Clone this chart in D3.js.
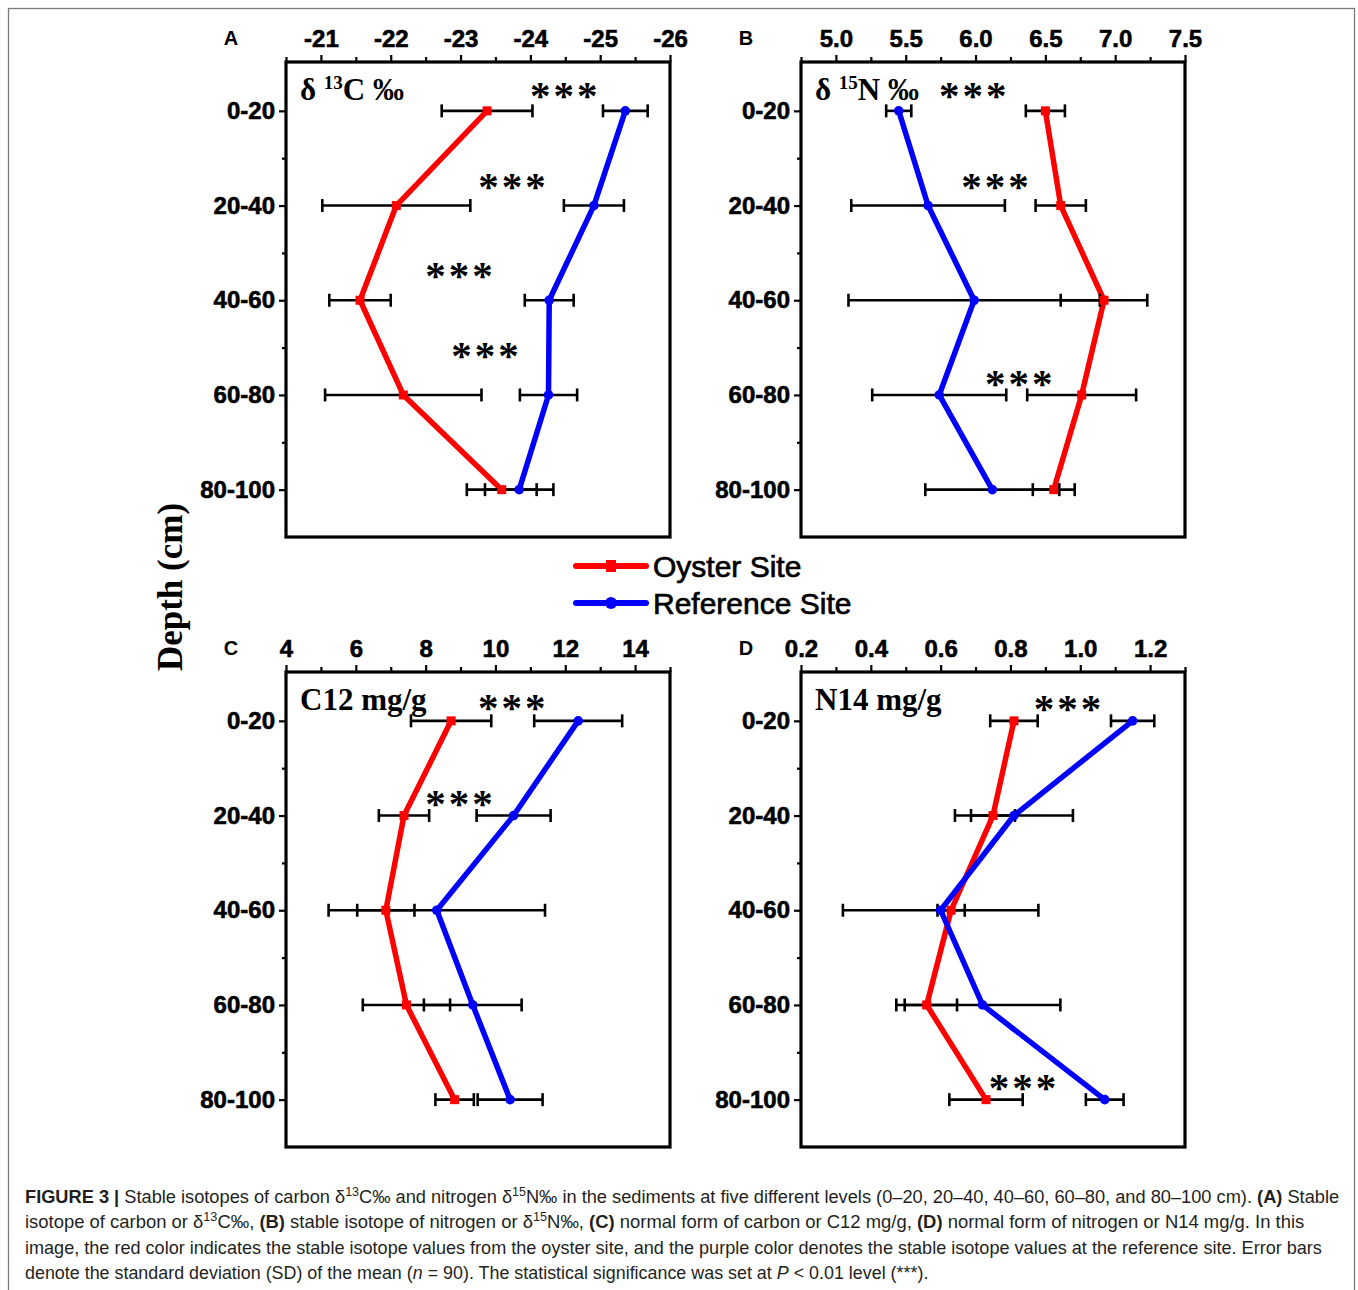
<!DOCTYPE html>
<html>
<head>
<meta charset="utf-8">
<script src="https://cdn.jsdelivr.net/npm/d3@7"></script>
<style>
  html, body { margin: 0; padding: 0; background: #fff; }
  svg { display: block; }
</style>
</head>
<body>
<svg id="fig" width="1358" height="1290"></svg>
<script>
// Depth intervals (cm)
const depths = ["0-20", "20-40", "40-60", "60-80", "80-100"];

// (A) δ13C ‰
const c13Oyster   = [-23.38, -22.08, -21.56, -22.18, -23.59];
const c13OysterSD = [0.65, 1.06, 0.44, 1.12, 0.50];
const c13Ref      = [-25.36, -24.91, -24.27, -24.26, -23.84];
const c13RefSD    = [0.32, 0.43, 0.35, 0.41, 0.49];
const c13Ticks    = [-21, -22, -23, -24, -25, -26];

// (B) δ15N ‰
const n15Oyster   = [6.50, 6.61, 6.92, 6.76, 6.56];
const n15OysterSD = [0.14, 0.18, 0.31, 0.39, 0.15];
const n15Ref      = [5.45, 5.66, 5.99, 5.74, 6.12];
const n15RefSD    = [0.09, 0.55, 0.90, 0.48, 0.48];
const n15Ticks    = [5.0, 5.5, 6.0, 6.5, 7.0, 7.5];

// (C) C12 mg/g
const c12Oyster   = [8.73, 7.38, 6.86, 7.45, 8.83];
const c12OysterSD = [1.15, 0.72, 0.82, 1.25, 0.55];
const c12Ref      = [12.37, 10.52, 8.32, 9.35, 10.42];
const c12RefSD    = [1.26, 1.06, 3.10, 1.40, 0.93];
const c12Ticks    = [4, 6, 8, 10, 12, 14];

// (D) N14 mg/g
const n14Oyster   = [0.81, 0.75, 0.63, 0.56, 0.73];
const n14OysterSD = [0.068, 0.063, 0.039, 0.087, 0.105];
const n14Ref      = [1.15, 0.81, 0.60, 0.72, 1.07];
const n14RefSD    = [0.062, 0.169, 0.28, 0.223, 0.054];
const n14Ticks    = [0.2, 0.4, 0.6, 0.8, 1.0, 1.2];

// Significance marks: [x value, row position (0 = first depth)]
const c13Stars = [[-24.5, -0.24], [-23.76, 0.72], [-23.0, 1.67], [-23.37, 2.51]];
const n15Stars = [[5.99, -0.24], [6.15, 0.72], [6.32, 2.8]];
const c12Stars = [[10.51, -0.22], [9.0, 0.8]];
const n14Stars = [[0.968, -0.2], [0.839, 3.8]];

const seriesNames = ["Oyster Site", "Reference Site"];
const RED = "#ff0000", BLUE = "#0000ff";

// plain hyphen for negative numbers, as printed on the axes
const intFmt = d => String(d);
const oneDec = d => d.toFixed(1);

const svg = d3.select("#fig");

// outer figure frame
svg.append("rect")
  .attr("x", 8.5).attr("y", 8.5).attr("width", 1346).attr("height", 1320)
  .attr("fill", "none").attr("stroke", "#7a7a7a").attr("stroke-width", 1.3);

const W = 384, H = 475;

const panels = [
  { letter: "A", left: 286, top: 62, domain: [-20.5, -26], ticks: c13Ticks, step: 0.5,
    fmt: intFmt, title: ["δ ", "13", "C ‰"],
    oy: c13Oyster, oySD: c13OysterSD, rf: c13Ref, rfSD: c13RefSD, stars: c13Stars },
  { letter: "B", left: 801, top: 62, domain: [4.75, 7.5], ticks: n15Ticks, step: 0.25,
    fmt: oneDec, title: ["δ ", "15", "N ‰"],
    oy: n15Oyster, oySD: n15OysterSD, rf: n15Ref, rfSD: n15RefSD, stars: n15Stars },
  { letter: "C", left: 286, top: 672, domain: [4, 15], ticks: c12Ticks, step: 1,
    fmt: intFmt, title: ["C12 mg/g"],
    oy: c12Oyster, oySD: c12OysterSD, rf: c12Ref, rfSD: c12RefSD, stars: c12Stars },
  { letter: "D", left: 801, top: 672, domain: [0.2, 1.3], ticks: n14Ticks, step: 0.1,
    fmt: oneDec, title: ["N14 mg/g"],
    oy: n14Oyster, oySD: n14OysterSD, rf: n14Ref, rfSD: n14RefSD, stars: n14Stars }
];

panels.forEach(p => {
  const g = svg.append("g");
  const x = d3.scaleLinear().domain(p.domain).range([p.left, p.left + W]);
  const y = d3.scalePoint().domain(depths).range([p.top + 1.5, p.top + H]).padding(0.5);
  const yRow = d3.scaleLinear().domain([-0.5, depths.length - 0.5]).range([p.top + 1.5, p.top + H]);

  // minor ticks on the top axis (half-way between labelled ticks)
  const lo = Math.min(...p.domain), hi = Math.max(...p.domain);
  const minor = d3.range(Math.round((hi - lo) / p.step) + 1)
    .map(i => +(lo + i * p.step).toFixed(4))
    .filter(v => !p.ticks.some(t => Math.abs(t - v) < 1e-6));
  g.append("g").attr("transform", `translate(0,${p.top})`)
    .call(d3.axisTop(x).tickValues(minor).tickSize(5).tickSizeOuter(0).tickFormat(""))
    .call(a => a.select(".domain").remove())
    .call(a => a.selectAll("line").attr("stroke-width", 2.2));

  // labelled ticks on the top axis
  g.append("g").attr("transform", `translate(0,${p.top})`)
    .call(d3.axisTop(x).tickValues(p.ticks).tickSize(7).tickPadding(8).tickSizeOuter(0).tickFormat(p.fmt))
    .call(a => a.select(".domain").remove())
    .call(a => a.selectAll("line").attr("stroke-width", 2.2))
    .call(a => a.selectAll("text")
      .attr("font-family", "Liberation Sans, Arial, sans-serif")
      .attr("font-weight", "bold").attr("font-size", 24)
      .attr("fill", "#000").attr("stroke", "#000").attr("stroke-width", 0.6));

  // depth axis: labelled ticks at each interval, minor ticks at interval boundaries
  g.append("g").attr("transform", `translate(${p.left},0)`)
    .call(d3.axisLeft(yRow).tickValues([0.5, 1.5, 2.5, 3.5]).tickSize(4).tickSizeOuter(0).tickFormat(""))
    .call(a => a.select(".domain").remove())
    .call(a => a.selectAll("line").attr("stroke-width", 2.2));
  g.append("g").attr("transform", `translate(${p.left},0)`)
    .call(d3.axisLeft(y).tickSize(7).tickPadding(4).tickSizeOuter(0))
    .call(a => a.select(".domain").remove())
    .call(a => a.selectAll("line").attr("stroke-width", 2.2))
    .call(a => a.selectAll("text")
      .attr("font-family", "Liberation Sans, Arial, sans-serif")
      .attr("font-weight", "bold").attr("font-size", 24)
      .attr("fill", "#000").attr("stroke", "#000").attr("stroke-width", 0.6));

  // plot frame
  g.append("rect").attr("x", p.left).attr("y", p.top).attr("width", W).attr("height", H)
    .attr("fill", "none").attr("stroke", "#000").attr("stroke-width", 3.2);

  // panel letter
  g.append("text").attr("x", p.left - 55).attr("y", p.top - 17)
    .attr("text-anchor", "middle")
    .attr("font-family", "Liberation Sans, Arial, sans-serif").attr("font-weight", "bold")
    .attr("font-size", 20).attr("fill", "#000").text(p.letter);

  // panel title
  const t = g.append("text").attr("x", p.left + 14).attr("y", p.top + 38)
    .attr("font-family", "Liberation Serif, Times New Roman, serif").attr("font-weight", "bold")
    .attr("font-size", 31).attr("fill", "#000");
  if (p.title.length === 1) {
    t.text(p.title[0]);
  } else {
    t.append("tspan").text(p.title[0]);
    t.append("tspan").attr("font-size", 19).attr("dy", -11).text(p.title[1]);
    t.append("tspan").attr("dy", 11).text(p.title[2]);
  }

  const line = d3.line().x(d => x(d.v)).y(d => y(d.depth));
  const series = [
    { name: seriesNames[0], color: RED, vals: p.oy, sd: p.oySD, square: true },
    { name: seriesNames[1], color: BLUE, vals: p.rf, sd: p.rfSD, square: false }
  ];

  series.forEach(s => {
    const pts = depths.map((d, i) => ({ depth: d, v: s.vals[i], sd: s.sd[i] }));
    g.append("path").datum(pts).attr("d", line)
      .attr("fill", "none").attr("stroke", s.color).attr("stroke-width", 5.5)
      .attr("stroke-linejoin", "round");
  });

  // error bars (± SD)
  series.forEach(s => {
    const pts = depths.map((d, i) => ({ depth: d, v: s.vals[i], sd: s.sd[i] }));
    const eb = g.append("g").selectAll("g").data(pts).join("g");
    eb.append("line")
      .attr("x1", d => x(d.v - d.sd)).attr("x2", d => x(d.v + d.sd))
      .attr("y1", d => y(d.depth)).attr("y2", d => y(d.depth))
      .attr("stroke", "#000").attr("stroke-width", 2.6);
    [-1, 1].forEach(k => {
      eb.append("line")
        .attr("x1", d => x(d.v + k * d.sd)).attr("x2", d => x(d.v + k * d.sd))
        .attr("y1", d => y(d.depth) - 6.5).attr("y2", d => y(d.depth) + 6.5)
        .attr("stroke", "#000").attr("stroke-width", 2.6);
    });
  });

  // markers
  series.forEach(s => {
    const pts = depths.map((d, i) => ({ depth: d, v: s.vals[i] }));
    if (s.square) {
      g.append("g").selectAll("rect").data(pts).join("rect")
        .attr("x", d => x(d.v) - 4.5).attr("y", d => y(d.depth) - 4.5)
        .attr("width", 9).attr("height", 9).attr("fill", s.color);
    } else {
      g.append("g").selectAll("circle").data(pts).join("circle")
        .attr("cx", d => x(d.v)).attr("cy", d => y(d.depth)).attr("r", 4.8)
        .attr("fill", s.color);
    }
  });

  // significance asterisks
  g.append("g").selectAll("text").data(p.stars).join("text")
    .attr("x", d => x(d[0])).attr("y", d => yRow(d[1]))
    .attr("dy", "0.5em")
    .attr("text-anchor", "middle")
    .attr("font-family", "Liberation Serif, Times New Roman, serif").attr("font-weight", "bold")
    .attr("font-size", 41).attr("letter-spacing", 3).attr("fill", "#000")
    .text("***");
});

// shared depth axis title
svg.append("text")
  .attr("transform", "translate(182,587) rotate(-90)")
  .attr("text-anchor", "middle")
  .attr("font-family", "Liberation Serif, Times New Roman, serif").attr("font-weight", "bold")
  .attr("font-size", 35).attr("fill", "#000")
  .text("Depth (cm)");

// legend
const legend = svg.append("g").attr("transform", "translate(576,566)");
seriesNames.forEach((name, i) => {
  const color = i === 0 ? RED : BLUE;
  const row = legend.append("g").attr("transform", `translate(0,${i * 37})`);
  row.append("line").attr("x1", 0).attr("x2", 70).attr("y1", 0).attr("y2", 0)
    .attr("stroke", color).attr("stroke-width", 6).attr("stroke-linecap", "round");
  if (i === 0) {
    row.append("rect").attr("x", 30).attr("y", -6).attr("width", 10).attr("height", 12).attr("fill", color);
  } else {
    row.append("circle").attr("cx", 35).attr("cy", 0).attr("r", 6).attr("fill", color);
  }
  row.append("text").attr("x", 77).attr("y", 0).attr("dy", "0.36em")
    .attr("font-family", "Liberation Sans, Arial, sans-serif").attr("font-size", 30)
    .attr("fill", "#000").attr("stroke", "#000").attr("stroke-width", 0.7)
    .text(name);
});

// caption
const capLines = [
  { y: 1203, width: 1315, parts: [
    { t: "FIGURE 3 | ", b: true },
    { t: "Stable isotopes of carbon δ" }, { t: "13", sup: true }, { t: "C‰ and nitrogen δ" },
    { t: "15", sup: true },
    { t: "N‰ in the sediments at five different levels (0–20, 20–40, 40–60, 60–80, and 80–100 cm). " },
    { t: "(A)", b: true }, { t: " Stable" } ] },
  { y: 1228, width: 1280, parts: [
    { t: "isotope of carbon or δ" }, { t: "13", sup: true }, { t: "C‰, " }, { t: "(B)", b: true },
    { t: " stable isotope of nitrogen or δ" }, { t: "15", sup: true }, { t: "N‰, " },
    { t: "(C)", b: true }, { t: " normal form of carbon or C12 mg/g, " }, { t: "(D)", b: true },
    { t: " normal form of nitrogen or N14 mg/g. In this" } ] },
  { y: 1254, width: 1298, parts: [
    { t: "image, the red color indicates the stable isotope values from the oyster site, and the purple color denotes the stable isotope values at the reference site. Error bars" } ] },
  { y: 1279, width: 904, parts: [
    { t: "denote the standard deviation (SD) of the mean (" }, { t: "n", i: true },
    { t: " = 90). The statistical significance was set at " }, { t: "P", i: true },
    { t: " < 0.01 level (***)." } ] }
];
capLines.forEach(l => {
  const txt = svg.append("text").attr("x", 0).attr("y", 0)
    .attr("font-family", "Liberation Sans, Arial, sans-serif").attr("font-size", 17.5)
    .attr("fill", "#231f20");
  l.parts.forEach(pt => {
    const ts = txt.append("tspan").text(pt.t);
    if (pt.b) ts.attr("font-weight", "bold");
    if (pt.i) ts.attr("font-style", "italic");
    if (pt.sup) ts.attr("font-size", 12).attr("dy", -7);
  });
  // undo the superscript raise on the span after each superscript
  txt.selectAll("tspan").each(function (d, i) {
    if (i > 0 && l.parts[i - 1].sup) d3.select(this).attr("dy", 7);
  });
  const w = txt.node().getComputedTextLength();
  txt.attr("transform", `translate(25,${l.y}) scale(${l.width / w},1)`);
});
</script>
</body>
</html>
